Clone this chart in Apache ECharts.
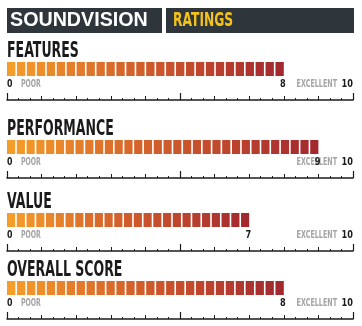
<!DOCTYPE html>
<html>
<head>
<meta charset="utf-8">
<script src="https://cdn.jsdelivr.net/npm/echarts@6/dist/echarts.min.js"></script>
<style>
  html, body { margin: 0; padding: 0; background: #ffffff; }
  #chart { width: 362px; height: 326px; }
</style>
</head>
<body>
<div id="chart"></div>
<script>
// Rating categories and their scores on a 0–10 scale
const categories = ['FEATURES', 'PERFORMANCE', 'VALUE', 'OVERALL SCORE'];
const scores = [8, 9, 7, 8];
const scaleRange = [0, 10];
const endLabels = ['POOR', 'EXCELLENT'];
const brandName = 'SOUNDVISION';
const panelTitle = 'RATINGS';

// Layout
const LEFT = 7, RIGHT = 9;
const barTops = [62, 140, 213, 281];
const BAR_H = 14;
const RULER_GAP = 24;
const SEG_PITCH = 9.85;
const SEG_GAP = 1.6;
const FONT = '"Liberation Sans", Arial, sans-serif';
const HEAVY = '"DejaVu Sans", "Liberation Sans", sans-serif';
const INK = '#1b1b1b';
const GREY = '#a4a4a4';
const BAR_COLORS = ['#f59d2a', '#dc6f2b', '#c24a2d', '#a3292f'];

const chart = echarts.init(document.getElementById('chart'), null, { renderer: 'canvas' });

// Segmented bar: a run of small blocks from the axis start up to the score,
// shaded from orange to deep red along its own length.
function renderSegments(params, api) {
  const v = api.value(0);
  const start = api.coord([scaleRange[0], api.value(1)]);
  const end = api.coord([v, api.value(1)]);
  const len = end[0] - start[0];
  const n = Math.max(1, Math.round(len / SEG_PITCH));
  const w = (len - (n - 1) * SEG_GAP) / n;
  const y = start[1] - BAR_H / 2;
  const children = [];
  for (let k = 0; k < n; k++) {
    const t = n > 1 ? k / (n - 1) : 0;
    children.push({
      type: 'rect',
      shape: { x: start[0] + k * (w + SEG_GAP), y: y, width: w, height: BAR_H },
      style: { fill: echarts.color.lerp(t, BAR_COLORS) }
    });
  }
  return { type: 'group', children: children };
}

const grids = [], xAxes = [], yAxes = [], series = [];
categories.forEach((name, i) => {
  grids.push({ left: LEFT, right: RIGHT, top: barTops[i], height: BAR_H });
  const base = {
    gridIndex: i, type: 'value', min: scaleRange[0], max: scaleRange[1],
    position: 'bottom', offset: RULER_GAP,
    splitLine: { show: false }, axisLabel: { show: false }
  };
  // unit ticks with thirds between
  xAxes.push(Object.assign({}, base, {
    interval: 1,
    axisLine: { show: true, lineStyle: { color: INK, width: 1.6 } },
    axisTick: { show: true, inside: true, length: 4, lineStyle: { color: INK, width: 1 } },
    minorTick: { show: true, splitNumber: 3, length: 2, lineStyle: { color: INK, width: 1 } }
  }));
  // long ticks every five
  xAxes.push(Object.assign({}, base, {
    interval: 5,
    axisLine: { show: false },
    axisTick: { show: true, inside: true, length: 7, lineStyle: { color: INK, width: 1.2 } }
  }));
  yAxes.push({ gridIndex: i, type: 'category', data: [name], show: false });
  series.push({
    type: 'custom',
    name: name,
    xAxisIndex: 2 * i,
    yAxisIndex: i,
    renderItem: renderSegments,
    encode: { x: 0, y: 1 },
    data: [[scores[i], 0]],
    silent: true
  });
});

chart.setOption({
  animation: false,
  backgroundColor: '#ffffff',
  grid: grids,
  xAxis: xAxes,
  yAxis: yAxes,
  series: series
});

function label(text, x, y, size, color, align, sx, family) {
  return {
    type: 'text', x: x, y: y, scaleX: sx, z: 20,
    style: {
      text: text, fontSize: size, fontWeight: 'bold', fontFamily: family || HEAVY,
      fill: color, align: align, verticalAlign: 'middle'
    }
  };
}

const px = (i, v) => chart.convertToPixel({ xAxisIndex: 2 * i }, v);

const graphics = [
  { type: 'rect', shape: { x: 7, y: 8, width: 155, height: 25 }, style: { fill: '#2e363c' } },
  { type: 'rect', shape: { x: 166, y: 8, width: 188, height: 25 }, style: { fill: '#2e363c' } },
  label(brandName, 10, 20.5, 20.5, '#ffffff', 'left', 0.96, FONT),
  label(panelTitle, 173, 20.5, 19.5, '#f3c21c', 'left', 0.63)
];

categories.forEach((name, i) => {
  const x0 = px(i, scaleRange[0]);
  const x1 = px(i, scaleRange[1]);
  const xs = px(i, scores[i]);
  const top = barTops[i];
  const ly = top + BAR_H + 8.5;
  graphics.push(label(name, LEFT, top - 10.5, 22, INK, 'left', 0.57));
  graphics.push(label(String(scaleRange[0]), x0, ly, 10.5, INK, 'left', 0.75));
  graphics.push(label(endLabels[0], x0 + 14, ly, 10, GREY, 'left', 0.62));
  graphics.push(label(endLabels[1], x1 - 16, ly, 10, GREY, 'right', 0.64));
  graphics.push(label(String(scaleRange[1]), x1, ly, 10.5, INK, 'right', 0.78));
  graphics.push(label(String(scores[i]), xs + 2, ly, 10.5, INK, 'right', 0.78));
});

chart.setOption({ graphic: graphics });
</script>
</body>
</html>
